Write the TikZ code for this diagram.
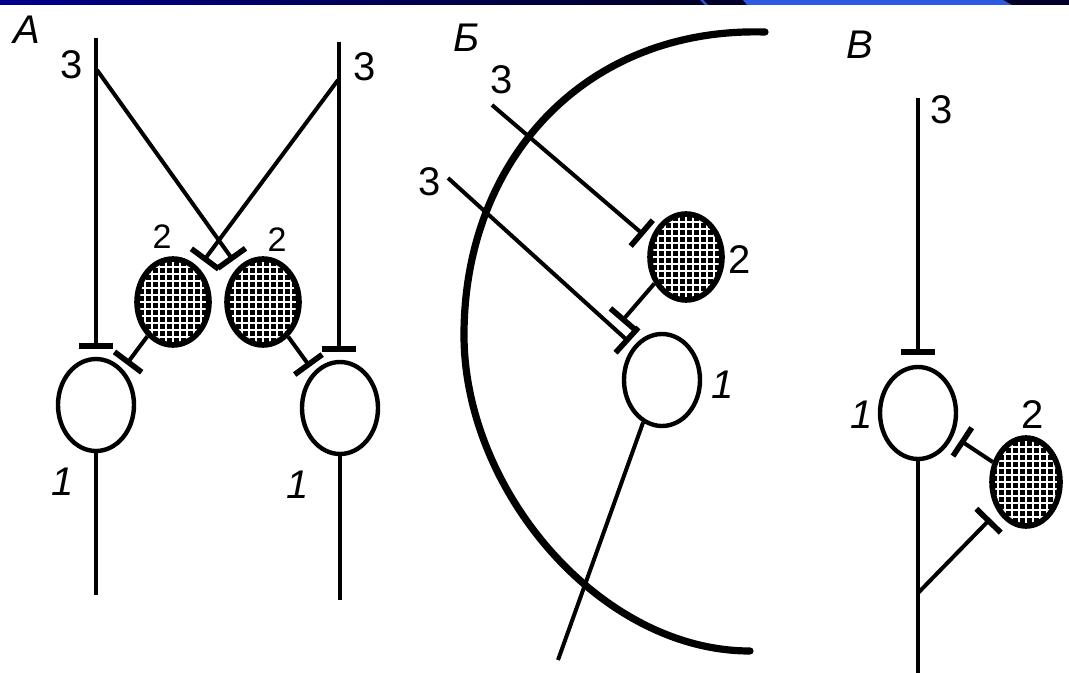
\documentclass[tikz,border=0pt]{standalone}
\usepackage{fontspec}
\setmainfont{Liberation Sans}
\usetikzlibrary{arrows.meta,shapes.geometric,calc}
\definecolor{navy}{RGB}{0,0,140}
\definecolor{navydark}{RGB}{0,0,40}
\definecolor{barblue}{RGB}{45,90,225}
\begin{document}
\begin{tikzpicture}[x=0.5pt,y=-0.5pt,
  fib/.style={line width=2pt},
  inh/.style={line width=2pt,-{Bar[width=17pt,line width=2.8pt]},shorten >=4pt},
  soma/.style={ellipse,draw,line width=2.2pt,minimum width=38pt,minimum height=46pt,inner sep=0pt},
  inter/.style={ellipse,draw,line width=2.8pt,minimum width=36pt,minimum height=43pt,inner sep=0pt,
    path picture={
      \fill[black] (path picture bounding box.south west) rectangle (path picture bounding box.north east);
      \foreach \k in {-7,...,7}{
        \draw[white,line width=1.2pt] ($(path picture bounding box.center)+(\k*3.5pt,-40pt)$) -- ++(0pt,80pt);
        \draw[white,line width=1.2pt] ($(path picture bounding box.center)+(-40pt,\k*3.5pt)$) -- ++(80pt,0pt);
      }
    }},
  num/.style={font=\fontsize{20}{22}\selectfont,inner sep=0pt},
  numsm/.style={font=\fontsize{17}{19}\selectfont,inner sep=0pt},
  arcline/.style={line width=3.6pt,line cap=round}
]
\useasboundingbox (0,0) rectangle (1069,673);
\fill[white] (0,0) rectangle (1069,673);
% top bar
\shade[left color=navy,right color=navydark] (0,0) rectangle (702,5);
\fill[navydark] (702,0) rectangle (1069,5);
\fill[barblue] (700,0) -- (703,0) -- (708,5) -- (705,5) -- cycle;
\fill[barblue] (743,0) -- (1003,0) -- (1012,5) -- (747,5) -- cycle;

% ---------- Panel A ----------
\node[num] (lA) at (27,30) {\itshape A};
\coordinate (L3) at (96,38);
\coordinate (R3) at (339,42);
\coordinate (L3x) at (97,70);
\coordinate (R3x) at (338,80);
\node[soma] (c1L) at (96,405) {};
\node[soma] (c1R) at (340,408) {};
\node[inter] (e2L) at (173,302) {};
\node[inter] (e2R) at (263,302) {};
\draw[inh] (L3) -- (L3 |- c1L.north);
\draw[inh] (R3) -- (R3 |- c1R.north);
\draw[inh] (L3x) -- (e2R);
\draw[inh] (R3x) -- (e2L);
\draw[inh,shorten >=3pt] (e2L) -- (c1L);
\draw[inh,shorten >=3pt] (e2R) -- (c1R);
\coordinate (aL) at (96,595);
\coordinate (aR) at (340,600);
\draw[fib] (c1L.south) -- (aL);
\draw[fib] (c1R.south) -- (aR);
\node[num] (n3a) at (72,65) {3};
\node[num] (n3b) at (365,67) {3};
\node[numsm] (n2a) at (162,237) {2};
\node[numsm] (n2b) at (277,240) {2};
\node[num] (n1a) at (63,482) {\itshape 1};
\node[num] (n1b) at (298,485) {\itshape 1};

% ---------- Panel B ----------
\node[num] (lB) at (467,38) {\itshape Б};
\draw[arcline] (765,32) .. controls (585,27) and (464,160) .. (464,335)
                        .. controls (464,490) and (600,651) .. (750,651);
\node[inter] (e2B) at (686,257) {};
\node[soma] (c1B) at (662,380) {};
\coordinate (B3u) at (492,105);
\coordinate (B3l) at (448,178);
\draw[inh] (B3u) -- (e2B.155);
\draw[inh,shorten >=3pt] (B3l) -- (c1B.130);
\coordinate (syn) at ($(B3l)!0.9!(c1B.130)$);
\draw[inh,shorten >=5pt] (e2B.220) -- (syn);
\coordinate (Bax) at (558,660);
\draw[fib] (c1B.246) -- (Bax);
\node[num] (n3c) at (502,80) {3};
\node[num] (n3d) at (430,182) {3};
\node[num] (n2c) at (740,260) {2};
\node[num] (n1c) at (723,385) {\itshape 1};

% ---------- Panel V ----------
\node[num] (lV) at (860,45) {\itshape В};
\coordinate (V3) at (918,98);
\node[soma] (c1V) at (918,413) {};
\draw[inh,shorten >=5pt] (V3) -- (V3 |- c1V.north);
\node[inter,minimum width=34pt,minimum height=44pt] (e2V) at (1026,482) {};
\draw[inh] (e2V.149) -- (c1V.327);
\coordinate (Vax) at (918,673);
\draw[fib] (c1V.south) -- (Vax);
\coordinate (br) at (918,593);
\draw[inh,shorten >=5pt] (br) -- (e2V.226);
\node[num] (n3e) at (942,110) {3};
\node[num] (n1d) at (862,415) {\itshape 1};
\node[num] (n2d) at (1033,415) {2};
\end{tikzpicture}
\end{document}
